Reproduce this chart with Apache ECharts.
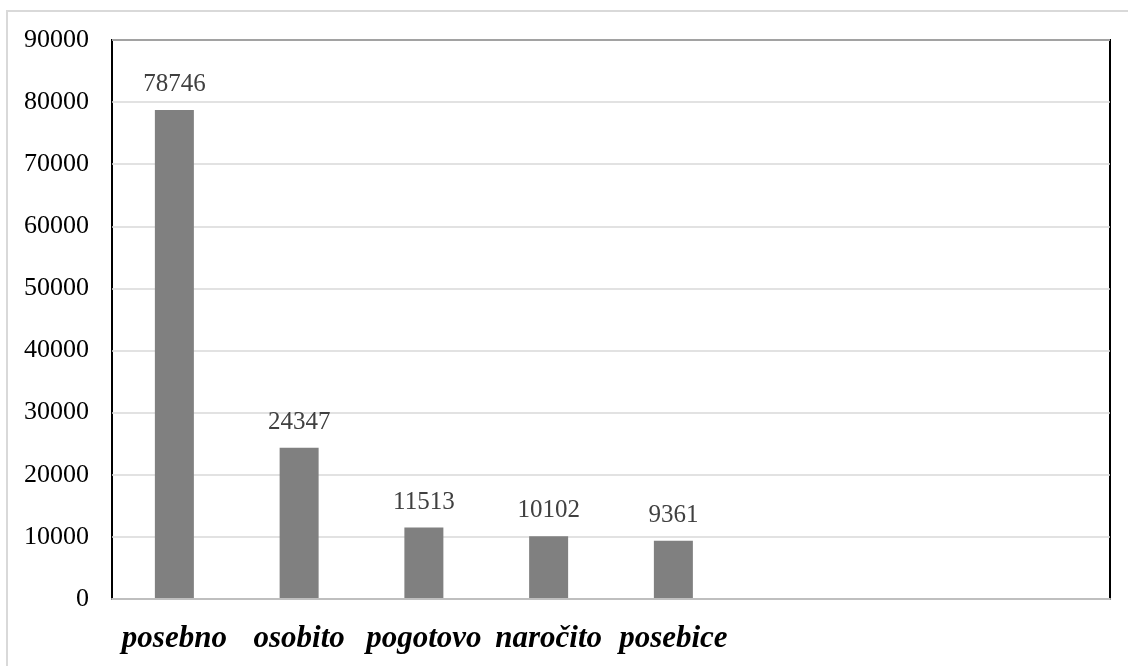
<!DOCTYPE html>
<html><head><meta charset="utf-8">
<script src="https://cdn.jsdelivr.net/npm/echarts@6/dist/echarts.min.js"></script>
<style>html,body{margin:0;padding:0;background:#fff}#c{width:1128px;height:666px}</style>
</head><body><div id="c"></div>
<script>
const categories = ['posebno', 'osobito', 'pogotovo', 'naročito', 'posebice', '', '', ''];
const values = [78746, 24347, 11513, 10102, 9361, null, null, null];
const yTicks = [0, 10000, 20000, 30000, 40000, 50000, 60000, 70000, 80000, 90000];

const chart = echarts.init(document.getElementById('c'));
chart.setOption({
  animation: false,
  graphic: [{
    type: 'rect', left: 6, top: 10, z: -10,
    shape: { width: 1200, height: 700 },
    style: { fill: '#fff', stroke: '#d9d9d9', lineWidth: 2 }
  }],
  grid: { left: 112, right: 18, top: 40, bottom: 67, show: true, borderColor: '#000', borderWidth: 2, backgroundColor: 'transparent' },
  xAxis: {
    type: 'category', data: categories,
    axisLine: { show: true, lineStyle: { color: '#bfbfbf', width: 2 } },
    axisTick: { show: false },
    axisLabel: { margin: 24, color: '#000', fontFamily: 'Liberation Serif', fontSize: 31, fontWeight: 'bold', fontStyle: 'italic', interval: 0 },
    z: 5
  },
  yAxis: {
    type: 'value', min: yTicks[0], max: yTicks[yTicks.length - 1], interval: yTicks[1] - yTicks[0],
    axisLine: { show: false }, axisTick: { show: false },
    splitLine: { lineStyle: { color: '#d9d9d9', width: 1.5 } },
    axisLabel: { margin: 23, color: '#000', fontFamily: 'Liberation Serif', fontSize: 26, formatter: v => String(v) }
  },
  series: [{
    type: 'bar', data: values, barWidth: 39,
    itemStyle: { color: '#808080' },
    label: { show: true, position: 'top', distance: 13, color: '#404040', fontFamily: 'Liberation Serif', fontSize: 25 }
  }]
});
</script></body></html>
